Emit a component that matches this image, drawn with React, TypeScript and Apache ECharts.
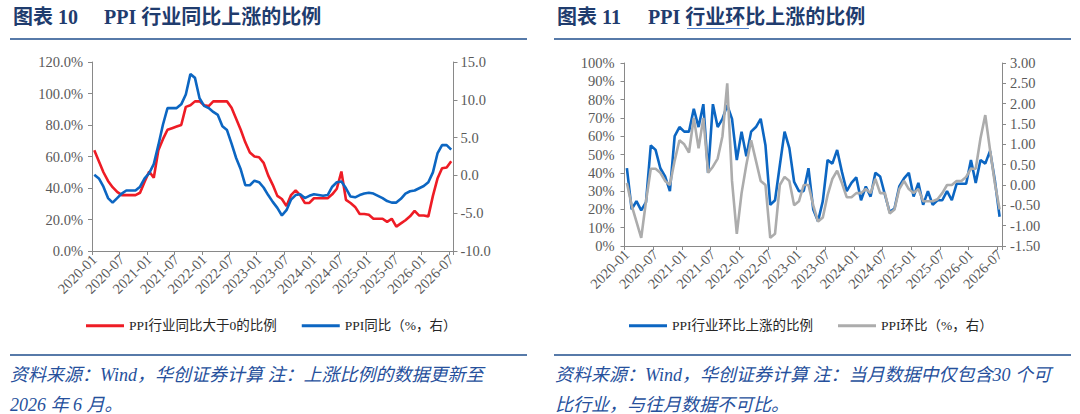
import React, { useEffect, useRef } from "react";
import * as echarts from "echarts";

// ---------- categories (2020-01 .. 2026-07) ----------
const months: string[] = (() => {
  const out: string[] = [];
  for (let y = 2020; y <= 2026; y++) {
    for (let m = 1; m <= 12; m++) {
      if (y === 2026 && m > 7) break;
      out.push(`${y}-${m < 10 ? "0" + m : m}`);
    }
  }
  return out;
})();

// ---------- figure 10 ----------
// share of PPI industries with YoY > 0 (%)
const ratioYoY: number[] = [
  64, 57, 50, 44.5, 40.5, 37.5, 35.5, 35.5, 35.5, 35.5, 37, 44,
  50.5, 46.5, 64, 71, 77, 78, 79, 80, 91.5, 92.5, 95, 95,
  92.5, 92, 95, 95, 95, 95, 91, 84, 77, 69, 62.5, 60,
  59.5, 56, 48, 42, 35, 33, 28.5, 35.5, 38.5, 35.5, 30.5, 30.5,
  33.5, 33.5, 33.5, 33.5, 36, 39.5, 50.5, 32.5, 30.5, 28, 23.5, 23.5,
  23, 20.5, 20.5, 20.5, 18.5, 20.5, 15.5, 17.5, 19.5, 22, 25.5, 22.5,
  22.5, 22, 35, 46, 52.5, 53, 57,
];
// PPI YoY (%, right axis)
const ppiYoY: number[] = [
  0.1, -0.4, -1.5, -3.0, -3.6, -3.0, -2.4, -2.0, -2.0, -2.0, -1.5, -0.4,
  0.3, 1.5, 4.0, 6.7, 8.9, 8.9, 8.9, 9.4, 10.7, 13.4, 12.9, 10.2,
  9.2, 8.9, 8.4, 8.0, 6.5, 6.0, 4.2, 2.3, 0.8, -1.3, -1.3, -0.7,
  -0.9, -1.6, -2.6, -3.5, -4.3, -5.3, -4.6, -3.2, -2.6, -2.5, -3.0, -2.7,
  -2.5, -2.6, -2.7, -2.6, -1.5, -0.9, -0.8, -1.7, -2.8, -2.9, -2.6, -2.4,
  -2.3, -2.4, -2.7, -3.0, -3.4, -3.6, -3.6, -3.1, -2.4, -2.1, -2.0, -1.7,
  -1.4, -0.9, 0.4, 2.9, 4.0, 4.0, 3.4,
];

// ---------- figure 11 ----------
// share of PPI industries with MoM > 0 (%)
const ratioMoM: number[] = [
  42.5, 20, 24.5, 19.5, 24, 55, 52.5, 42.5, 38, 30, 60, 65,
  62.5, 62.5, 75, 65, 77.5, 40, 77.5, 65, 69.5, 77, 69.5, 47,
  62.5, 49, 62.5, 65, 69.5, 55, 22.5, 25, 44, 62.5, 53.5, 35,
  30, 30, 42.5, 20, 13.5, 24.5, 47, 45, 52.5, 40.5, 30, 34.5,
  37.5, 25, 32.5, 27, 40, 38, 28, 18.5, 20.5, 32.5, 37, 40,
  27, 34.5, 22.5, 30, 22.5, 25, 25, 30, 25, 34, 34, 34,
  47, 34.5, 47, 45, 52, 36, 16,
];
// PPI MoM (%, right axis)
const ppiMoM: number[] = [
  0.05, -0.5, -0.9, -1.3, -0.4, 0.4, 0.4, 0.3, 0.1, 0.0, 0.6, 1.1,
  1.0, 0.8, 1.65, 0.9, 1.65, 0.3, 0.45, 0.65, 1.2, 2.5, 0.1, -1.2,
  -0.2, 0.5, 1.1, 0.6, 0.1, 0.0, -1.3, -1.2, 0.0, 0.2, 0.1, -0.5,
  -0.4, 0.0, 0.0, -0.5, -0.9, -0.8, -0.25, 0.15, 0.35, 0.05, -0.3, -0.3,
  -0.2, -0.2, -0.1, -0.2, 0.15, -0.2, -0.2, -0.7, -0.6, -0.1, 0.1, -0.1,
  -0.2, -0.1, -0.4, -0.4, -0.4, -0.35, -0.2, 0.0, 0.0, 0.1, 0.1, 0.2,
  0.4, 0.4, 1.15, 1.72, 0.86, 0.05, -0.6,
];

// ---------- texts ----------
const title10a = "图表 10";
const title10b = "PPI 行业同比上涨的比例";
const title11a = "图表 11";
const title11b = "PPI 行业环比上涨的比例";
const legend10 = ["PPI行业同比大于0的比例", "PPI同比（%，右）"];
const legend11 = ["PPI行业环比上涨的比例", "PPI环比（%，右）"];
const source10 = [
  "资料来源：Wind，华创证券计算 注：上涨比例的数据更新至",
  "2026 年 6 月。",
];
const source11 = [
  "资料来源：Wind，华创证券计算 注：当月数据中仅包含30 个可",
  "比行业，与往月数据不可比。",
];

const SERIF = "'Liberation Serif','Times New Roman','Noto Sans CJK SC',serif";
const AXIS = "#898989";
const LABEL = "#595959";
const RED = "#ee1c25";
const BLUE = "#0c66c2";
const GRAY = "#acacac";
const NAVY = "#1f3c6e";
const RULE = "#1f4e8c";
const SRC = "#26509c";
const TICK_FONT = 14.5;

const every6 = (i: number) => i % 6 === 0;

function xAxisCfg(gridIndex: number) {
  return {
    type: "category",
    gridIndex,
    data: months,
    boundaryGap: true,
    axisLine: { show: true, lineStyle: { color: AXIS, width: 1 } },
    axisTick: { show: true, interval: every6, length: 4, lineStyle: { color: AXIS } },
    axisLabel: {
      interval: every6,
      rotate: 45,
      fontSize: TICK_FONT,
      fontFamily: SERIF,
      color: LABEL,
      margin: 6,
    },
    splitLine: { show: false },
  };
}

function yAxisCfg(
  gridIndex: number,
  position: "left" | "right",
  min: number,
  max: number,
  interval: number,
  formatter: (v: number) => string,
  margin: number
) {
  return {
    type: "value",
    gridIndex,
    position,
    min,
    max,
    interval,
    axisLine: { show: true, onZero: false, lineStyle: { color: AXIS, width: 1 } },
    axisTick: { show: true, length: 4, lineStyle: { color: AXIS } },
    axisLabel: { formatter, fontSize: TICK_FONT, fontFamily: SERIF, color: LABEL, margin },
    splitLine: { show: false },
  };
}

function textEl(text: string, x: number, y: number, style: any) {
  return {
    type: "text",
    x,
    y,
    silent: true,
    style: { text, align: "left", verticalAlign: "middle", fontFamily: SERIF, ...style },
  };
}

function lineEl(x1: number, y1: number, x2: number, y2: number, stroke: string, lineWidth: number) {
  return { type: "line", silent: true, shape: { x1, y1, x2, y2 }, style: { stroke, lineWidth } };
}

export default function App() {
  const ref = useRef<HTMLDivElement>(null);

  useEffect(() => {
    if (!ref.current) return;
    const chart = echarts.init(ref.current, undefined, { renderer: "svg" });
    const titleStyle = { fill: NAVY, fontSize: 20, fontWeight: "bold" };
    const srcStyle = { fill: SRC, fontSize: 18, fontStyle: "italic" };
    const legendBase = {
      top: 319,
      padding: 0,
      itemWidth: 38,
      itemHeight: 3,
      icon: "rect",
      itemGap: 25,
      textStyle: { fontSize: 13.5, fontFamily: SERIF, color: "#262626" },
    };

    const option: any = {
      animation: false,
      backgroundColor: "#ffffff",
      grid: [
        { left: 92, top: 62, width: 361.5, height: 189, containLabel: false },
        { left: 624.5, top: 63, width: 377.5, height: 183, containLabel: false },
      ],
      xAxis: [xAxisCfg(0), xAxisCfg(1)],
      yAxis: [
        yAxisCfg(0, "left", 0, 120, 20, (v) => v.toFixed(1) + "%", 9),
        yAxisCfg(0, "right", -10, 15, 5, (v) => v.toFixed(1), 7),
        yAxisCfg(1, "left", 0, 100, 10, (v) => Math.round(v) + "%", 10),
        yAxisCfg(1, "right", -1.5, 3, 0.5, (v) => v.toFixed(2), 8),
      ],
      legend: [
        { ...legendBase, left: 86, data: legend10 },
        { ...legendBase, left: 629, data: legend11 },
      ],
      series: [
        {
          name: legend10[0],
          type: "line",
          xAxisIndex: 0,
          yAxisIndex: 0,
          data: ratioYoY,
          symbol: "none",
          lineStyle: { color: RED, width: 2.6 },
          itemStyle: { color: RED },
        },
        {
          name: legend10[1],
          type: "line",
          xAxisIndex: 0,
          yAxisIndex: 1,
          data: ppiYoY,
          symbol: "none",
          lineStyle: { color: BLUE, width: 2.6 },
          itemStyle: { color: BLUE },
        },
        {
          name: legend11[0],
          type: "line",
          xAxisIndex: 1,
          yAxisIndex: 2,
          data: ratioMoM,
          symbol: "none",
          lineStyle: { color: BLUE, width: 2.6 },
          itemStyle: { color: BLUE },
        },
        {
          name: legend11[1],
          type: "line",
          xAxisIndex: 1,
          yAxisIndex: 3,
          data: ppiMoM,
          symbol: "none",
          lineStyle: { color: GRAY, width: 2.6 },
          itemStyle: { color: GRAY },
        },
      ],
      graphic: [
        textEl(title10a, 13, 17, titleStyle),
        textEl(title10b, 104, 17, titleStyle),
        textEl(title11a, 557, 17, titleStyle),
        textEl(title11b, 648, 17, titleStyle),
        lineEl(687, 28.5, 749, 28.5, "#4a7cc8", 1),
        lineEl(10, 39, 527, 39, RULE, 1.5),
        lineEl(554, 39, 1071, 39, RULE, 1.5),
        lineEl(10, 355, 527, 355, RULE, 1.5),
        lineEl(554, 355, 1071, 355, RULE, 1.5),
        textEl(source10[0], 10, 375, srcStyle),
        textEl(source10[1], 10, 405, srcStyle),
        textEl(source11[0], 555, 375, srcStyle),
        textEl(source11[1], 555, 405, srcStyle),
        lineEl(555 + 6 * 18, 415, 555 + 9 * 18, 415, "#4a7cc8", 1),
      ],
    };

    chart.setOption(option);
    return () => chart.dispose();
  }, []);

  return (
    <div
      ref={ref}
      style={{
        position: "absolute",
        left: 0,
        top: 0,
        width: 1080,
        height: 414,
        background: "#ffffff",
      }}
    />
  );
}
